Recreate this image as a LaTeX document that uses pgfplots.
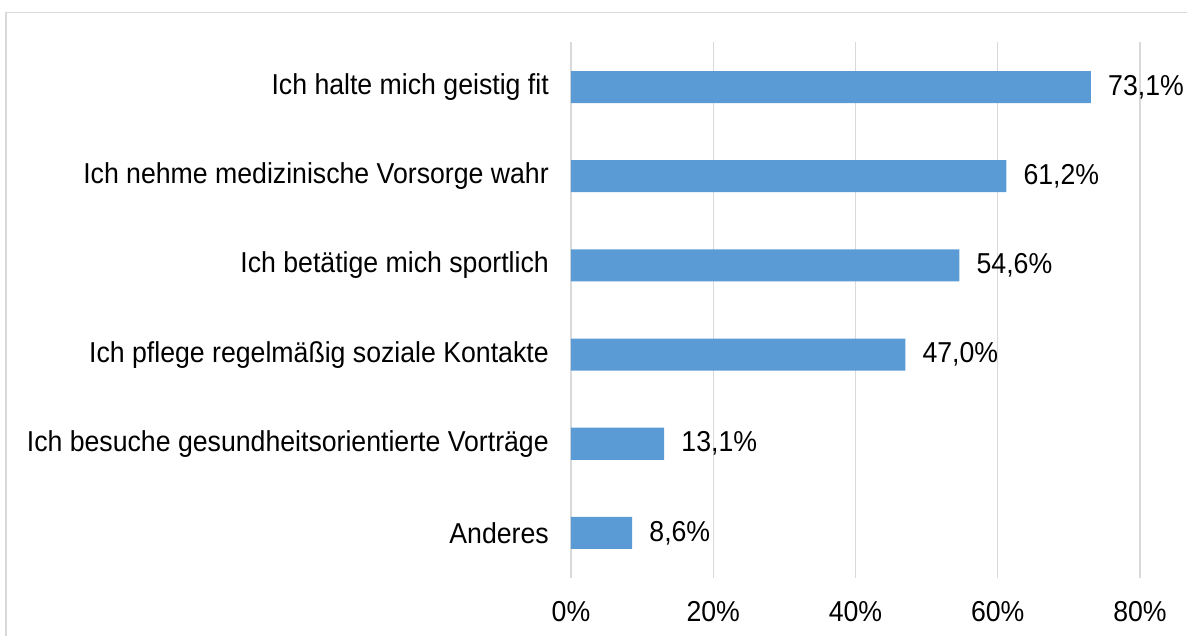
\documentclass[border=0pt]{standalone}
\usepackage{pgfplots}
\pgfplotsset{compat=1.18}
\usepackage{fontspec}
\setmainfont[FakeStretch=0.926]{Liberation Sans}
\definecolor{barblue}{HTML}{5B9BD5}
\definecolor{gridgray}{HTML}{D9D9D9}
\begin{document}
\begin{tikzpicture}
\begin{axis}[
  /pgf/number format/assume math mode=true,
  scale only axis,
  width=426.75pt, height=401.25pt,
  xbar, bar width=24pt, bar shift=0pt,
  xmin=0, xmax=80, ymin=-0.5, ymax=5.5,
  enlargelimits=false,
  axis line style={draw=none},
  major tick length=0pt,
  xtick={0,20,40,60,80},
  xticklabel={\pgfmathprintnumber{\tick}\%},
  ytick={0,1,2,3,4,5},
  yticklabels={Anderes,Ich besuche gesundheitsorientierte Vorträge,Ich pflege regelmäßig soziale Kontakte,Ich betätige mich sportlich,Ich nehme medizinische Vorsorge wahr,Ich halte mich geistig fit},
  xmajorgrids, grid style={draw=gridgray, line width=1pt},
  xticklabel style={font=\fontsize{21.6}{26}\selectfont, anchor=north, inner sep=0pt, yshift=-18pt},
  yticklabel style={font=\fontsize{21.6}{26}\selectfont, anchor=east, inner sep=0pt, xshift=-16.5pt},
  nodes near coords={\pgfmathprintnumber[fixed,fixed zerofill,precision=1,use comma]{\pgfplotspointmeta}\%},
  every node near coord/.style={font=\fontsize{21.6}{26}\selectfont, anchor=west, inner sep=0pt, xshift=12.75pt, text=black},
]
\addplot[fill=barblue, draw=none] coordinates {
  (8.6,0) (13.1,1) (47.0,2) (54.6,3) (61.2,4) (73.1,5)
};
\coordinate (O) at (rel axis cs:0,0);
\end{axis}
\draw[gridgray, line width=1pt] ([shift={(461.25pt+20pt,-60pt)}]O) |- ([shift={(-423.75pt,423.75pt)}]O) -- ([shift={(-423.75pt,-60pt)}]O);
\pgfresetboundingbox
\useasboundingbox ([shift={(-428.25pt,-43.125pt)}]O) rectangle ([shift={(462pt,433.125pt)}]O);
\end{tikzpicture}
\end{document}
